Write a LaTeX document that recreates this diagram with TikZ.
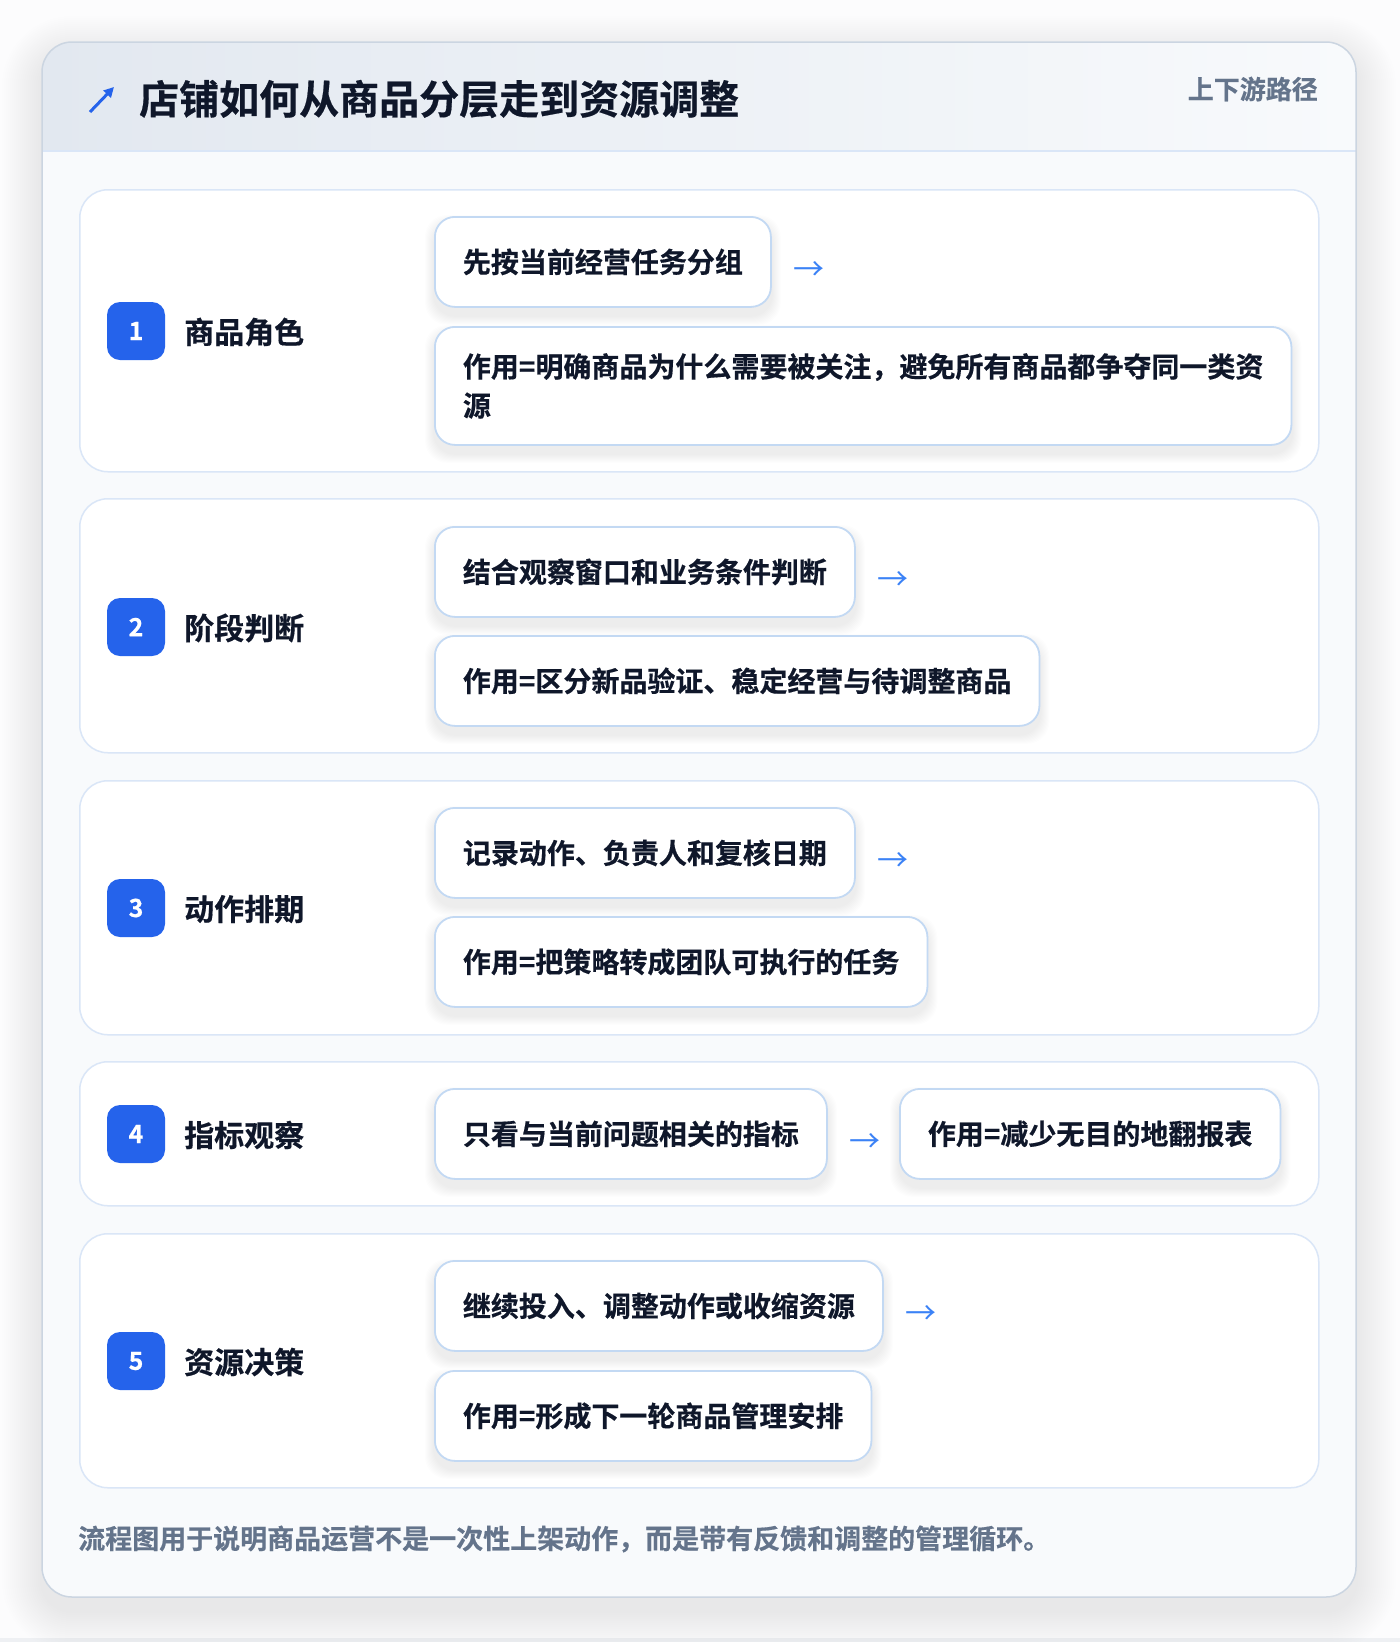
\documentclass[tikz,border=0pt]{standalone}
\usepackage{fontspec}
\setmainfont{Noto Sans CJK SC}[BoldFont=* Bold, BoldFeatures={FakeBold=0.5}]
\usetikzlibrary{arrows.meta}
\definecolor{ink}{HTML}{0F172A}
\definecolor{muted}{HTML}{64748B}
\definecolor{brand}{HTML}{2563EB}
\definecolor{arrowc}{HTML}{3B82F6}
\definecolor{boxline}{HTML}{C3D9F3}
\definecolor{secline}{HTML}{DAE6F7}
\definecolor{cardline}{HTML}{CBD5E1}
\definecolor{cardfill}{HTML}{F8FAFC}
\definecolor{hdrL}{HTML}{E2E8F0}
\definecolor{hdrR}{HTML}{F8FAFC}
\definecolor{pagebg}{HTML}{FCFCFD}
\definecolor{bottomband}{HTML}{EEF0F3}
\definecolor{shadowc}{HTML}{334155}
\pgfdeclarelayer{backlayer}
\pgfdeclarelayer{shadowlayer}
\pgfsetlayers{backlayer,shadowlayer,main}
\tikzset{
 secbox/.style={draw=secline, line width=1.5pt, fill=white, rounded corners=28pt, anchor=north west, minimum width=1239pt, inner sep=0pt},
 stepbox/.style={draw=boxline, line width=1.8pt, fill=white, rounded corners=20pt, anchor=north west, minimum height=90pt, inner xsep=28pt, inner ysep=0pt, align=left, text=ink, font=\bfseries\fontsize{28}{39}\selectfont},
 badge/.style={fill=brand, rounded corners=13pt, minimum width=58pt, minimum height=58pt, inner sep=0pt, text=white, font=\bfseries\fontsize{25}{25}\selectfont},
 steplabel/.style={anchor=west, text=ink, font=\bfseries\fontsize{30}{30}\selectfont, inner sep=0pt},
 arrowtxt/.style={anchor=west, text=arrowc, font=\fontsize{31}{31}\selectfont, inner sep=0pt},
}
\newcommand\boxshadow[1]{%
 \begin{pgfonlayer}{shadowlayer}
 \foreach \i in {1,...,9}{%
  \fill[shadowc, opacity=0.009, rounded corners=22pt] ([shift={(-\i,-\i+8)}]#1.north west) rectangle ([shift={(\i,\i+8)}]#1.south east);
 }
 \end{pgfonlayer}}
\begin{document}
\begin{tikzpicture}[x=1pt,y=-1pt]
\useasboundingbox (0,0) rectangle (1400,1642);
\begin{pgfonlayer}{backlayer}
\fill[pagebg] (0,0) rectangle (1400,1642);
\fill[bottomband] (0,1638) rectangle (1400,1642);
% card shadow
\foreach \i in {2,4,...,40}{%
 \fill[shadowc, opacity=0.004, rounded corners=30pt+\i] (42-\i,42-\i+14) rectangle (1356+\i,1597+\i+14);
}
% card
\fill[cardfill, rounded corners=30pt] (42,42) rectangle (1356,1597);
\begin{scope}
\clip[rounded corners=30pt] (42,42) rectangle (1356,1597);
\shade[left color=hdrL, right color=hdrR] (42,42) rectangle (1356,151);
\end{scope}
\draw[secline, line width=1.5pt] (42,151) -- (1356,151);
\draw[cardline, line width=1.5pt, rounded corners=30pt] (42,42) rectangle (1356,1597);
% sections
\node[secbox, minimum height=282pt] (s1) at (79,189) {};
\node[secbox, minimum height=254pt] (s2) at (79,498) {};
\node[secbox, minimum height=254pt] (s3) at (79,780) {};
\node[secbox, minimum height=144pt] (s4) at (79,1061) {};
\node[secbox, minimum height=254pt] (s5) at (79,1233) {};
\end{pgfonlayer}
% header
\draw[brand, line width=3pt, -{Triangle[length=10pt,width=10pt]}] (90,112) -- (114,87);
\node[anchor=west, text=ink, font=\bfseries\fontsize{40}{40}\selectfont, inner sep=0pt] (title) at (139,99) {店铺如何从商品分层走到资源调整};
\node[anchor=east, text=muted, font=\bfseries\fontsize{26}{26}\selectfont, inner sep=0pt] (tag) at (1318,89) {上下游路径};
% badges and labels
\node[badge] (b1) at (136,331) {1};
\node[steplabel] (l1) at (184,332) {商品角色};
\node[badge] (b2) at (136,627) {2};
\node[steplabel] (l2) at (184,628) {阶段判断};
\node[badge] (b3) at (136,908) {3};
\node[steplabel] (l3) at (184,909) {动作排期};
\node[badge] (b4) at (136,1134) {4};
\node[steplabel] (l4) at (184,1135) {指标观察};
\node[badge] (b5) at (136,1361) {5};
\node[steplabel] (l5) at (184,1362) {资源决策};
% step boxes
\node[stepbox] (t1a) at (434,216) {先按当前经营任务分组};
\node[stepbox, minimum height=118pt] (t1b) at (434,326) {作用=明确商品为什么需要被关注，避免所有商品都争夺同一类资\\源};
\node[arrowtxt] (a1) at ([xshift=21pt,yshift=-9pt]t1a.east) {→};
\node[stepbox] (t2a) at (434,526) {结合观察窗口和业务条件判断};
\node[stepbox] (t2b) at (434,635) {作用=区分新品验证、稳定经营与待调整商品};
\node[arrowtxt] (a2) at ([xshift=21pt,yshift=-9pt]t2a.east) {→};
\node[stepbox] (t3a) at (434,807) {记录动作、负责人和复核日期};
\node[stepbox] (t3b) at (434,916) {作用=把策略转成团队可执行的任务};
\node[arrowtxt] (a3) at ([xshift=21pt,yshift=-9pt]t3a.east) {→};
\node[stepbox] (t4a) at (434,1088) {只看与当前问题相关的指标};
\node[arrowtxt] (a4) at ([xshift=21pt,yshift=-9pt]t4a.east) {→};
\node[stepbox] (t4b) at (899,1088) {作用=减少无目的地翻报表};
\node[stepbox] (t5a) at (434,1260) {继续投入、调整动作或收缩资源};
\node[stepbox] (t5b) at (434,1370) {作用=形成下一轮商品管理安排};
\node[arrowtxt] (a5) at ([xshift=21pt,yshift=-9pt]t5a.east) {→};
\boxshadow{t1a}\boxshadow{t1b}\boxshadow{t2a}\boxshadow{t2b}\boxshadow{t3a}
\boxshadow{t3b}\boxshadow{t4a}\boxshadow{t4b}\boxshadow{t5a}\boxshadow{t5b}
% footer
\node[anchor=west, text=muted, font=\bfseries\fontsize{27}{27}\selectfont, inner sep=0pt] (foot) at (78,1539) {流程图用于说明商品运营不是一次性上架动作，而是带有反馈和调整的管理循环。};
\end{tikzpicture}
\end{document}
